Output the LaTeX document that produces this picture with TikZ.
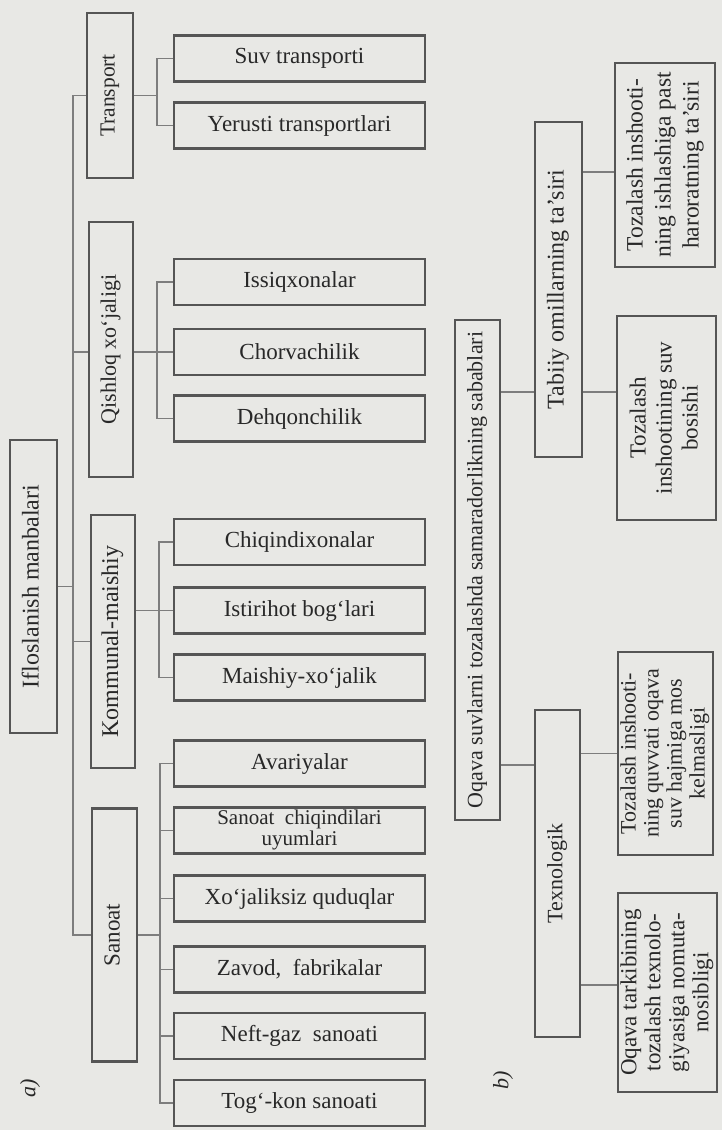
\documentclass[tikz,border=0pt]{standalone}
\usepackage{fontspec}
\setmainfont{Liberation Serif}
\usepackage{graphicx}
\definecolor{paper}{RGB}{232,232,229}
\definecolor{boxline}{RGB}{85,85,85}
\definecolor{conn}{RGB}{125,125,125}
\definecolor{ink}{RGB}{40,40,40}
\newcommand{\vtext}[1]{\rotatebox{90}{\begin{tabular}{@{}c@{}}#1\end{tabular}}}
\newcommand{\fs}[2]{\fontsize{#1}{#2}\selectfont}
\tikzset{
  box/.style={draw=boxline, line width=2.6pt, fill=paper, inner sep=0pt, text=ink,
    font=\fs{23}{25}},
  hbox/.style={box, minimum width=251pt, minimum height=46pt},
  vbox/.style={box},
  conn/.style={draw=conn, line width=1.8pt},
  lbl/.style={text=ink, font=\itshape\fs{22}{24}, rotate=90}
}
\begin{document}
\begin{tikzpicture}[x=1pt,y=-1pt]
\fill[paper] (0,0) rectangle (722,1130);
\useasboundingbox (0,0) rectangle (722,1130);

% ---------- a) ----------
\node[vbox, minimum width=47pt, minimum height=293pt, font=\fs{24}{26}] (root) at (33.5,586.5)
  {\vtext{Ifloslanish manbalari}};
\node[vbox, minimum width=46pt, minimum height=165pt, font=\fs{21.5}{23}] (transport) at (110,95.5)
  {\vtext{Transport}};
\node[vbox, minimum width=44pt, minimum height=255pt, font=\fs{22}{24}] (qishloq) at (111,349.5)
  {\vtext{Qishloq xo‘jaligi}};
\node[vbox, minimum width=44pt, minimum height=253pt, font=\fs{24}{26}] (kommunal) at (113,641.5)
  {\vtext{Kommunal-maishiy}};
\node[vbox, minimum width=45pt, minimum height=253pt, font=\fs{23}{25}] (sanoat) at (114.5,935)
  {\vtext{Sanoat}};

\node[hbox] (suv) at (299.5,58.5) {Suv transporti};
\node[hbox] (yerusti) at (299.5,125.5) {Yerusti transportlari};
\node[hbox] (issiq) at (299.5,282) {Issiqxonalar};
\node[hbox] (chorv) at (299.5,352) {Chorvachilik};
\node[hbox] (dehq) at (299.5,418.5) {Dehqonchilik};
\node[hbox] (chiq) at (299.5,542) {Chiqindixonalar};
\node[hbox] (istir) at (299.5,610.5) {Istirihot bog‘lari};
\node[hbox] (maish) at (299.5,677.5) {Maishiy-xo‘jalik};
\node[hbox] (avar) at (299.5,763.5) {Avariyalar};
\node[hbox, font=\fs{21}{21}] (sanchiq) at (299.5,830.5)
  {\begin{tabular}{@{}c@{}}Sanoat\ \ chiqindilari\\ uyumlari\end{tabular}};
\node[hbox] (xojal) at (299.5,898.5) {Xo‘jaliksiz quduqlar};
\node[hbox] (zavod) at (299.5,969.5) {Zavod,\ \ fabrikalar};
\node[hbox] (neft) at (299.5,1036) {Neft-gaz\ \ sanoati};
\node[hbox] (togkon) at (299.5,1103) {Tog‘-kon sanoati};

\coordinate (busA) at (73,0);
\coordinate (busT) at (157,0);
\coordinate (busQ) at (157,0);
\coordinate (busK) at (159,0);
\coordinate (busS) at (160,0);

% main bus
\draw[conn] (root.east) -- (root.east -| busA);
\draw[conn] (transport.west) -- (transport.west -| busA) -- (sanoat.west -| busA) -- (sanoat.west);
\draw[conn] (chorv.west -| qishloq.west) -- (chorv.west -| busA);
\draw[conn] (kommunal.west) -- (kommunal.west -| busA);

% transport
\draw[conn] (transport.east) -- (transport.east -| busT);
\draw[conn] (suv.west) -- (suv.west -| busT) -- (yerusti.west -| busT) -- (yerusti.west);
% qishloq
\draw[conn] (chorv.west -| qishloq.east) -- (chorv.west);
\draw[conn] (issiq.west) -- (issiq.west -| busQ) -- (dehq.west -| busQ) -- (dehq.west);
% kommunal
\draw[conn] (istir.west -| kommunal.east) -- (istir.west);
\draw[conn] (chiq.west) -- (chiq.west -| busK) -- (maish.west -| busK) -- (maish.west);
% sanoat
\draw[conn] (sanoat.east) -- (sanoat.east -| busS);
\draw[conn] (avar.west) -- (avar.west -| busS) -- (togkon.west -| busS) -- (togkon.west);
\foreach \n in {sanchiq,xojal,zavod,neft}
  \draw[conn] (\n.west -| busS) -- (\n.west);

\node[lbl] (la) at (30,1088) {a)};

% ---------- b) ----------
\node[vbox, minimum width=45pt, minimum height=500pt, font=\fs{22}{24}] (rootb) at (477.5,570)
  {\vtext{Oqava suvlarni tozalashda samaradorlikning sabablari}};
\node[vbox, minimum width=47pt, minimum height=335pt, font=\fs{24}{26}] (tabiiy) at (558.5,289.5)
  {\vtext{Tabiiy omillarning ta’siri}};
\node[vbox, minimum width=45pt, minimum height=327pt, font=\fs{22}{24}] (texno) at (557.5,873.5)
  {\vtext{Texnologik}};

\node[vbox, minimum width=100pt, minimum height=204pt, font=\fs{23.5}{28}] (c1) at (665,165)
  {\vtext{Tozalash inshooti-\\ning ishlashiga past\\haroratning ta’siri}};
\node[vbox, minimum width=99pt, minimum height=204pt, font=\fs{23}{26}] (c2) at (666.5,418)
  {\vtext{Tozalash\\inshootining suv\\bosishi}};
\node[vbox, minimum width=95pt, minimum height=203pt, font=\fs{22}{23}] (c3) at (665.5,753.5)
  {\vtext{Tozalash inshooti-\\ning quvvati oqava\\suv hajmiga mos\\kelmasligi}};
\node[vbox, minimum width=99pt, minimum height=199pt, font=\fs{23}{24}] (c4) at (667.5,992.5)
  {\vtext{Oqava tarkibining\\tozalash texnolo-\\giyasiga nomuta-\\nosibligi}};

\coordinate (yA) at (0,392);
\coordinate (yB) at (0,172);
\coordinate (yC) at (0,765);
\coordinate (yD) at (0,985);

\draw[conn] (yA -| rootb.east) -- (yA -| tabiiy.west);
\draw[conn] (yA -| tabiiy.east) -- (yA -| c2.west);
\draw[conn] (yB -| tabiiy.east) -- (yB -| c1.west);
\draw[conn] (yC -| rootb.east) -- (yC -| texno.west);
\draw[conn] (c3.west -| texno.east) -- (c3.west);
\draw[conn] (yD -| texno.east) -- (yD -| c4.west);

\node[lbl] (lb) at (503,1080) {b)};
\end{tikzpicture}
\end{document}
